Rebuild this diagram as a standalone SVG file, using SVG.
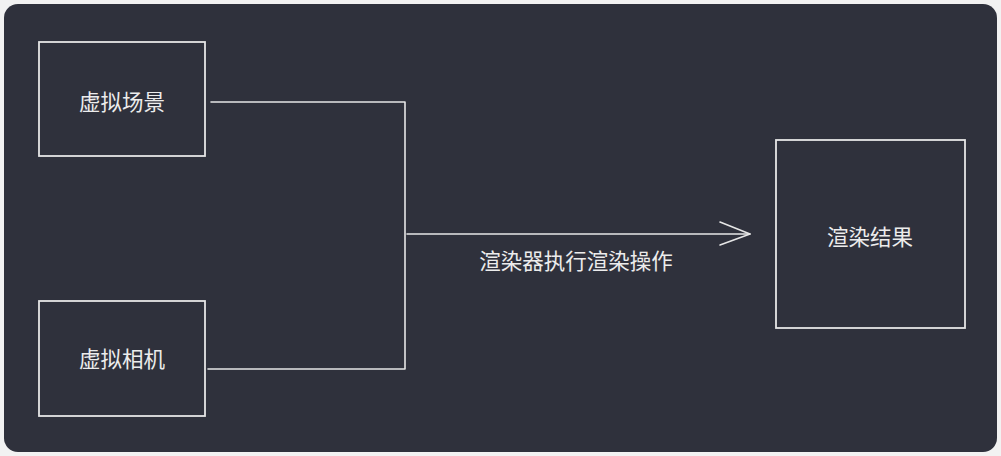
<svg xmlns="http://www.w3.org/2000/svg" width="1001" height="456" viewBox="0 0 1001 456">
<defs>
<style>
.box{fill:none;stroke:#e6e6e6;stroke-width:1.8}
.lbl{font-family:"Noto Sans CJK SC","Noto Sans",sans-serif;font-size:21.5px;fill:#ececec;text-anchor:middle;dominant-baseline:central}
.con{fill:none;stroke:#e6e6e6;stroke-width:1.6;stroke-linecap:round;stroke-linejoin:round}
</style>
</defs>
<rect x="0" y="0" width="1001" height="456" fill="#f2f2f2"/>
<rect x="4" y="4" width="993" height="448" rx="14" fill="#2f313c"/>
<g id="node-scene">
<rect class="box" x="39" y="42" width="166" height="114"/>
<text class="lbl" x="122" y="100">虚拟场景</text>
</g>
<g id="node-camera">
<rect class="box" x="39" y="301" width="166" height="115"/>
<text class="lbl" x="122" y="357">虚拟相机</text>
</g>
<g id="node-result">
<rect class="box" x="776" y="140" width="189" height="188"/>
<text class="lbl" x="870" y="235">渲染结果</text>
</g>
<g id="connectors">
<polyline class="con" points="211,102 405,102 405,369 208,369"/>
<line class="con" x1="407" y1="234" x2="750" y2="234"/>
<polyline class="con" points="720,222 750,234 720,245"/>
<text class="lbl" x="576" y="259">渲染器执行渲染操作</text>
</g>
</svg>
